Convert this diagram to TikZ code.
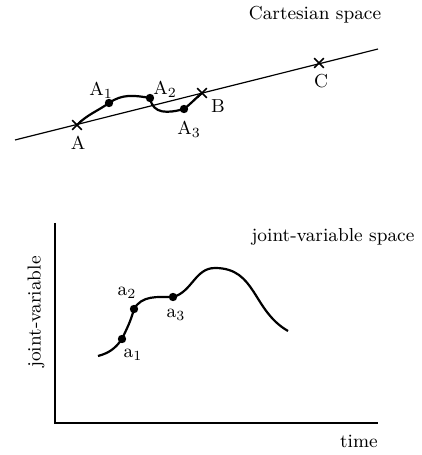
\documentclass[tikz,border=0pt]{standalone}
\usetikzlibrary{shapes.misc}
\tikzset{
  dot/.style={circle,fill,inner sep=0pt,minimum size=4.2pt},
  crs/.style={cross out,draw,line width=0.8pt,inner sep=0pt,minimum size=4pt},
  lbl/.style={inner sep=0pt},
}
\begin{document}
\begin{tikzpicture}[x=0.5pt,y=0.5pt,font=\fontsize{9.4}{11}\selectfont]
    \useasboundingbox (0,0) rectangle (422,455);
    % Cartesian space
    \coordinate (L1) at (15,315);
    \coordinate (L2) at (378,406);
    \draw[line width=0.6pt] (L1) -- (L2);
    \node[crs] (A) at (77,330) {};
    \node[crs] (B) at (202,362) {};
    \node[crs] (C) at (319,392) {};
    \node[dot] (A1) at (109,352) {};
    \node[dot] (A2) at (150,357) {};
    \node[dot] (A3) at (184,346) {};
    \draw[line width=1.1pt] (A.center) to[out=45,in=215] (A1.center)
        to[out=35,in=170] (A2.center)
        to[out=-80,in=195,looseness=1.2] (A3.center)
        to[out=38,in=220] (B.center);
    \node[lbl] (lA) at (78,312) {A};
    \node[lbl] (lA1) at (101,365) {A$_1$};
    \node[lbl] (lA2) at (165,366) {A$_2$};
    \node[lbl] (lA3) at (189,326) {A$_3$};
    \node[lbl] (lB) at (218,349) {B};
    \node[lbl] (lC) at (321,374) {C};
    \node[lbl] (cart) at (315,440) {Cartesian space};
    % joint-variable space
    \coordinate (O) at (55,32);
    \coordinate (Ytop) at (55,232);
    \coordinate (Xend) at (378,32);
    \draw[line width=0.7pt] (Ytop) -- (O) -- (Xend);
    \node[dot] (a1) at (122,116) {};
    \node[dot] (a2) at (134,146) {};
    \node[dot] (a3) at (173,158) {};
    \coordinate (s) at (98,99);
    \coordinate (pk) at (215,187);
    \coordinate (e) at (288,124);
    \draw[line width=1.1pt] (s) to[out=15,in=235] (a1.center)
        to[out=65,in=255] (a2.center)
        to[out=60,in=180] (a3.center)
        to[out=15,in=180] (pk)
        to[out=0,in=150,looseness=1.1] (e);
    \node[lbl] (la1) at (133,100) {a$_1$};
    \node[lbl] (la2) at (127,162) {a$_2$};
    \node[lbl] (la3) at (176,140) {a$_3$};
    \node[lbl] (jvs) at (333,218) {joint-variable space};
    \node[lbl] (time) at (359,14) {time};
    \node[lbl,rotate=90] (jv) at (36,143) {joint-variable};
\end{tikzpicture}
\end{document}
